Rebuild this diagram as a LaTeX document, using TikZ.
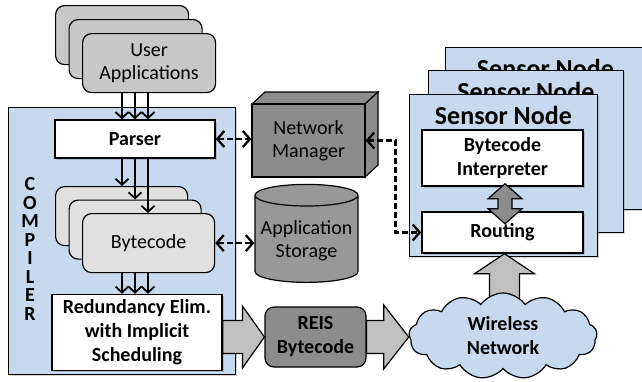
\documentclass[tikz,border=0pt]{standalone}
\usepackage{fontspec}
\setmainfont{Carlito}
\usetikzlibrary{arrows.meta,calc,shapes.geometric,shapes.symbols,shadows}

\definecolor{compblue}{RGB}{198,217,238}
\definecolor{appgray}{RGB}{200,200,200}
\definecolor{codegray}{RGB}{224,224,224}
\definecolor{boxgray}{RGB}{140,140,140}
\definecolor{storegray}{RGB}{152,152,152}
\definecolor{arrowgray}{RGB}{192,192,192}

\tikzset{
	txt/.style={font=\fontsize{20}{23}\selectfont, align=center},
	bold/.style={font=\bfseries\fontsize{20}{24}\selectfont, align=center},
	shade/.style={drop shadow={shadow xshift=1.5pt,shadow yshift=-1.5pt,opacity=0.35}},
	stackbox/.style={draw, line width=1.2pt, rounded corners=9pt, minimum width=133pt, minimum height=59pt, anchor=north west, txt},
	whitebox/.style={draw, line width=1.5pt, fill=white, shade, bold},
	sensorbox/.style={draw, line width=0.8pt, fill=compblue, shade, minimum height=162pt, anchor=north west},
	sntitle/.style={font=\bfseries\fontsize{26}{30}\selectfont},
	flow/.style={-{Straight Barb[length=6pt,width=13pt]}, line width=1.8pt},
	dasharrow/.style={{Straight Barb[length=7pt,width=16pt]}-{Straight Barb[length=7pt,width=16pt]}, line width=2.3pt, dash pattern=on 6pt off 3pt},
	blockarrow/.style={draw, line width=1.2pt, fill=arrowgray},
	cubeface/.style={draw, line width=1.2pt, fill=boxgray}
}

\begin{document}
\begin{tikzpicture}[x=1pt,y=-1pt]
	\useasboundingbox (0,0) rectangle (642,381);

	% compiler frame
	\node[draw, line width=0.8pt, fill=compblue, shade, minimum width=227pt, minimum height=267pt, anchor=north west] (compiler) at (8,107) {};
	\node[font=\bfseries\fontsize{20}{18.5}\selectfont, align=center] (complabel) at (30,249) {C\\O\\M\\P\\I\\L\\E\\R};

	% user applications
	\foreach \k/\n in {0/ua0,1/ua1}{
		\node[stackbox, fill=appgray] (\n) at (55+13.5*\k,5+14*\k) {};
	}
	\node[stackbox, fill=appgray] (ua2) at (82,33) {User\\Applications};

	\node[whitebox, minimum width=160pt, minimum height=38pt] (parser) at (135,139) {Parser};

	% bytecode
	\foreach \k/\n in {0/bc0,1/bc1}{
		\node[stackbox, fill=codegray, minimum width=132pt] (\n) at (55+13.5*\k,186+13.5*\k) {};
	}
	\node[stackbox, fill=codegray, minimum width=132pt] (bc2) at (82,213) {Bytecode};

	\node[whitebox, minimum width=170pt, minimum height=76pt] (redund) at (137,332.5) {Redundancy Elim.\\with Implicit\\Scheduling};

	% triple flows
	\foreach \d [count=\i from 0] in {-13,0,13}{
		\path (parser.north) ++(\d,0) coordinate (t\i);
		\draw[flow] (t\i |- ua2.south) -- (t\i);
		\draw[flow] (t\i |- redund.north) ++(0,-21) -- (t\i |- redund.north);
	}
	\draw[flow] (t0 |- parser.south) -- (t0 |- bc0.north);
	\draw[flow] (t1 |- parser.south) -- (t1 |- bc1.north);
	\draw[flow] (t2 |- parser.south) -- (t2 |- bc2.north);

	% network manager
	\draw[cubeface] (252,104) -- ++(13,-12) -- ++(113,0) -- ++(-13,12) -- cycle;
	\draw[cubeface] (365,104) -- ++(13,-12) -- ++(0,73) -- ++(-13,12) -- cycle;
	\node[draw, line width=1.2pt, fill=boxgray, minimum width=113pt, minimum height=73pt, txt] (nm) at (308.5,140.5) {Network\\Manager};

	% storage
	\node[cylinder, shape border rotate=90, aspect=0.22, draw, line width=1.2pt, fill=storegray, minimum width=103pt, minimum height=98pt, txt] (store) at (306.5,241) {Application\\Storage};

	\node[draw, line width=1.2pt, rounded corners=9pt, fill=boxgray, minimum width=101pt, minimum height=60pt, bold] (reis) at (315.5,337) {REIS\\Bytecode};

	% sensor nodes
	\foreach \x/\y/\w/\n in {445/47/200/sn2,428/70/195/sn1,409/94/188/sn0}{
		\node[sensorbox, minimum width=\w pt] (\n) at (\x,\y) {};
		\node[sntitle] (\n t) at ([yshift=-21pt]\n.north) {Sensor Node};
	}
	\node[whitebox, minimum width=161pt, minimum height=56pt] (interp) at (502.5,158) {Bytecode\\Interpreter};
	\node[whitebox, minimum width=161pt, minimum height=41pt] (routing) at (502.5,232.5) {Routing};

	\path[blockarrow, fill=boxgray] let \p1=(interp.south) in
		(\x1+2.5pt,\y1+3pt) -- (\x1+19.5pt,\y1-12pt) -- (\x1+9.5pt,\y1-12pt) -- (\x1+9.5pt,\y1-22pt) -- (\x1+19.5pt,\y1-22pt)
		-- (\x1+2.5pt,\y1-37pt) -- (\x1-14.5pt,\y1-22pt) -- (\x1-4.5pt,\y1-22pt) -- (\x1-4.5pt,\y1-12pt) -- (\x1-14.5pt,\y1-12pt) -- cycle;

	% wireless network
	\path[blockarrow] let \p1=(routing.south) in
		(\x1+2pt,\y1) -- (\x1+32pt,\y1-20pt) -- (\x1+17pt,\y1-20pt) -- (\x1+17pt,\y1-60pt)
		-- (\x1-13pt,\y1-60pt) -- (\x1-13pt,\y1-20pt) -- (\x1-28pt,\y1-20pt) -- cycle;
	\node[cloud, cloud puffs=13, cloud puff arc=110, aspect=2.2, draw, line width=1.2pt, fill=compblue, minimum width=188pt, minimum height=86pt, bold] (wsn) at (503,336) {Wireless\\Network};

	% block arrows
	\path[blockarrow] let \p1=(redund.east), \p2=(reis.west) in
		(\x1,\y2+16.5pt) -- (\x2-22pt,\y2+16.5pt) -- (\x2-22pt,\y2+31pt) -- (\x2,\y2)
		-- (\x2-22pt,\y2-31pt) -- (\x2-22pt,\y2-16.5pt) -- (\x1,\y2-16.5pt) -- cycle;
	\path[blockarrow] let \p1=(reis.east), \p2=(wsn.west) in
		(\x1,\y1+16.5pt) -- (\x2-25pt,\y1+16.5pt) -- (\x2-25pt,\y1+32pt) -- (\x2,\y1)
		-- (\x2-25pt,\y1-32pt) -- (\x2-25pt,\y1-16.5pt) -- (\x1,\y1-16.5pt) -- cycle;

	% dashed links
	\draw[dasharrow] (parser.east) -- (parser.east -| nm.west);
	\draw[dasharrow] (bc2.east) -- (bc2.east -| store.west);
	\draw[dasharrow] (nm.east) -- ++(30,0) |- (routing.west);
\end{tikzpicture}
\end{document}
